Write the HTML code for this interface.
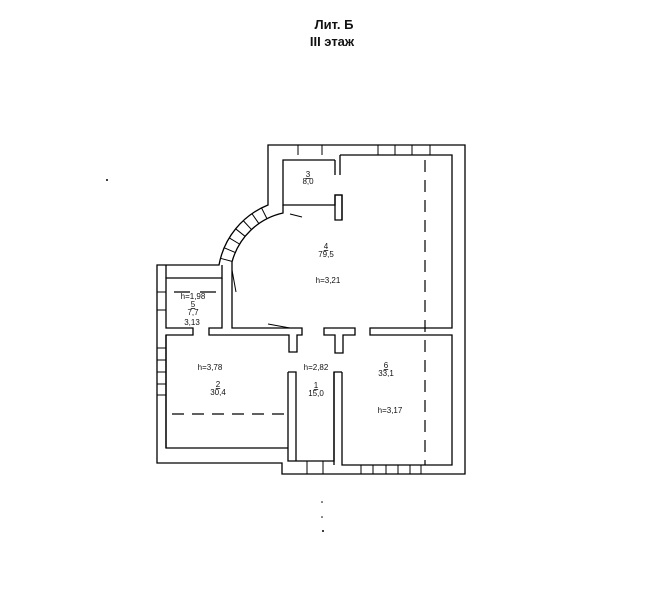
<!DOCTYPE html>
<html><head><meta charset="utf-8"><style>
html,body{margin:0;padding:0;background:#fff;}
svg{display:block}
text{font-family:"Liberation Sans",sans-serif;fill:#111}
</style></head><body>
<svg width="660" height="608" viewBox="0 0 660 608" xmlns="http://www.w3.org/2000/svg">
<text x="334" y="29" font-size="13" font-weight="bold" text-anchor="middle">Лит. Б</text>
<text x="332" y="46" font-size="13" font-weight="bold" text-anchor="middle">III этаж</text>
<g fill="none" stroke="#000" stroke-width="1.3">
<path d="M268,145 H465 V474 H282 V463 H157 V265 H219 A80,80 0 0 1 268,205 Z"/>
<path d="M335,160 H283 V205 H335 V195 H342 V220"/>
<path d="M335,160 V175 M340,155 V175 M340,155 H452 V328 H370 V335 H452 V465 H342 V372"/>
<path d="M283,205 V213 A68,68 0 0 0 232,262 V328 H302 V335 H297 V352 H289 V335 H209 V328 H222 V278"/>
<path d="M335,195 H342 V220 H335 Z" />
<path d="M324,328 H355 V335 H343 V353 H335 V335 H324 Z"/>
<path d="M288,372 V461 H334 V372 H342"/>
<path d="M288,372 H296 V461"/>
<path d="M334,372 V465"/>
<path d="M222,265 V278 H166 V328 H193 V335 H166 V448 H288"/>
<path d="M166,278 V265"/>
<path d="M166,335 V448"/>
</g>
<g stroke="#000" stroke-width="1">
<line x1="220.4" y1="258.3" x2="232" y2="261.4"/>
<line x1="224" y1="247.7" x2="235.1" y2="252.4"/>
<line x1="229.1" y1="237.8" x2="239.4" y2="244"/>
<line x1="235.5" y1="228.7" x2="244.9" y2="236.2"/>
<line x1="243.1" y1="220.5" x2="251.3" y2="229.3"/>
<line x1="251.8" y1="213.5" x2="258.7" y2="223.3"/>
<line x1="261.4" y1="207.7" x2="266.8" y2="218.4"/>
<line x1="298" y1="145" x2="298" y2="155"/><line x1="322" y1="145" x2="322" y2="155"/>
<line x1="378" y1="145" x2="378" y2="155"/><line x1="395" y1="145" x2="395" y2="155"/>
<line x1="412" y1="145" x2="412" y2="155"/><line x1="430" y1="145" x2="430" y2="155"/>
<line x1="307" y1="461" x2="307" y2="474"/><line x1="323" y1="461" x2="323" y2="474"/>
<line x1="361" y1="465" x2="361" y2="474"/><line x1="373" y1="465" x2="373" y2="474"/>
<line x1="386" y1="465" x2="386" y2="474"/><line x1="398" y1="465" x2="398" y2="474"/>
<line x1="410" y1="465" x2="410" y2="474"/><line x1="421" y1="465" x2="421" y2="474"/>
<line x1="157" y1="292" x2="166" y2="292"/><line x1="157" y1="310" x2="166" y2="310"/>
<line x1="157" y1="348" x2="166" y2="348"/><line x1="157" y1="360" x2="166" y2="360"/>
<line x1="157" y1="372" x2="166" y2="372"/><line x1="157" y1="384" x2="166" y2="384"/>
<line x1="157" y1="395" x2="166" y2="395"/>
<line x1="232" y1="270" x2="236" y2="292"/>
<line x1="268" y1="324" x2="290" y2="328"/>
<line x1="290" y1="214" x2="302" y2="217"/>
</g>
<g stroke="#000" stroke-width="1.2" stroke-dasharray="12,8" fill="none">
<line x1="425" y1="160" x2="425" y2="465"/>
<line x1="172" y1="414" x2="287" y2="414"/>
</g>
<line x1="174" y1="292" x2="220" y2="292" stroke="#000" stroke-width="1.3" stroke-dasharray="16,10"/>
<g font-size="8" text-anchor="middle">
<text x="308" y="177" text-decoration="underline">3</text><text x="308" y="184">8,0</text>
<text x="326" y="249" text-decoration="underline">4</text><text x="326" y="257">79,5</text>
<text x="328" y="283">h=3,21</text>
<text x="193" y="299">h=1,98</text>
<text x="193" y="307" text-decoration="underline">5</text><text x="193" y="315">7,7</text>
<text x="192" y="325">3,13</text>
<text x="210" y="370">h=3,78</text>
<text x="218" y="387" text-decoration="underline">2</text><text x="218" y="395">30,4</text>
<text x="316" y="370">h=2,82</text>
<text x="316" y="388" text-decoration="underline">1</text><text x="316" y="396">15,0</text>
<text x="386" y="368" text-decoration="underline">6</text><text x="386" y="376">33,1</text>
<text x="390" y="413">h=3,17</text>
</g>
<g fill="#000">
<circle cx="107" cy="180" r="1"/><circle cx="322" cy="502" r="0.8"/>
<circle cx="322" cy="517" r="0.8"/><circle cx="323" cy="531" r="1"/>
</g>
</svg>
</body></html>
